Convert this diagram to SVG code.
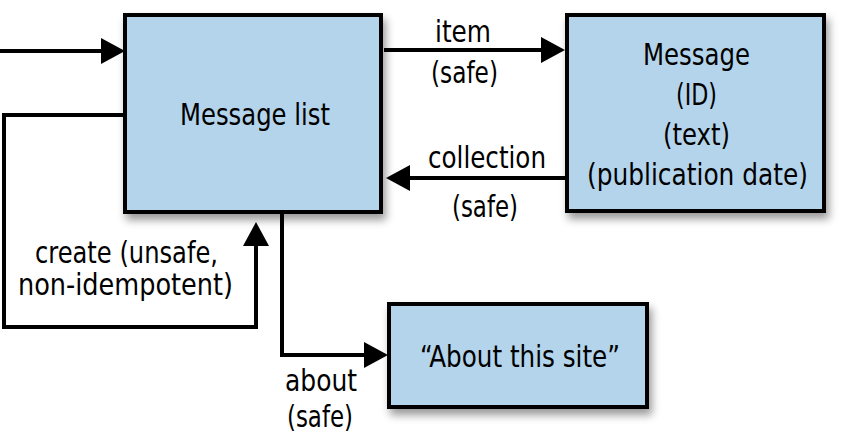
<svg xmlns="http://www.w3.org/2000/svg" width="855" height="444" viewBox="0 0 855 444">
<style>
.box{fill:#b3d4ea;stroke:#000;stroke-width:4;filter:url(#sh)}
.lbl{font-family:"DejaVu Sans Condensed","DejaVu Sans","Liberation Sans",sans-serif;font-stretch:condensed;font-size:30px;fill:#000;text-anchor:middle}
.con{fill:none;stroke:#000;stroke-width:4;stroke-linejoin:miter}
</style>
<defs>
<filter id="sh" x="-10%" y="-10%" width="130%" height="140%">
<feDropShadow dx="3" dy="6" stdDeviation="4" flood-color="#000" flood-opacity="0.4"/>
</filter>
<marker id="ah" markerUnits="userSpaceOnUse" markerWidth="24" markerHeight="26" refX="2" refY="13" orient="auto" viewBox="0 0 24 26">
<path d="M0,0 L24,13 L0,26 z" fill="#000"/>
</marker>
</defs>
<g id="connectors">
<path class="con" d="M0,51 H103" marker-end="url(#ah)"/>
<path class="con" d="M384,50 H543" marker-end="url(#ah)"/>
<path class="con" d="M567,178 H408" marker-end="url(#ah)"/>
<path class="con" d="M125,115 H4 V327 H256 V244" marker-end="url(#ah)"/>
<path class="con" d="M282,213 V355 H366" marker-end="url(#ah)"/>
<text class="lbl" x="463" y="42" textLength="56" lengthAdjust="spacingAndGlyphs">item</text>
<text class="lbl" x="464.5" y="83" textLength="67" lengthAdjust="spacingAndGlyphs">(safe)</text>
<text class="lbl" x="487" y="168" textLength="118" lengthAdjust="spacingAndGlyphs">collection</text>
<text class="lbl" x="485" y="217" textLength="66" lengthAdjust="spacingAndGlyphs">(safe)</text>
<text class="lbl" x="126.5" y="263" textLength="183" lengthAdjust="spacingAndGlyphs">create (unsafe,</text>
<text class="lbl" x="125.5" y="295" textLength="215" lengthAdjust="spacingAndGlyphs">non-idempotent)</text>
<text class="lbl" x="321" y="391" textLength="72" lengthAdjust="spacingAndGlyphs">about</text>
<text class="lbl" x="320" y="427" textLength="66" lengthAdjust="spacingAndGlyphs">(safe)</text>
</g>
<g id="message-list">
<rect class="box" x="125" y="15" width="256" height="197"/>
<text class="lbl" x="255" y="125" textLength="150" lengthAdjust="spacingAndGlyphs">Message list</text>
</g>
<g id="message">
<rect class="box" x="567" y="15" width="257" height="196"/>
<text class="lbl" x="696.5" y="65" textLength="107" lengthAdjust="spacingAndGlyphs">Message</text>
<text class="lbl" x="696.5" y="105" textLength="41" lengthAdjust="spacingAndGlyphs">(ID)</text>
<text class="lbl" x="696.5" y="145" textLength="67" lengthAdjust="spacingAndGlyphs">(text)</text>
<text class="lbl" x="697.5" y="185" textLength="221" lengthAdjust="spacingAndGlyphs">(publication date)</text>
</g>
<g id="about-site">
<rect class="box" x="389" y="304" width="258" height="103"/>
<text class="lbl" x="520" y="367" textLength="200" lengthAdjust="spacingAndGlyphs">“About this site”</text>
</g>
</svg>
